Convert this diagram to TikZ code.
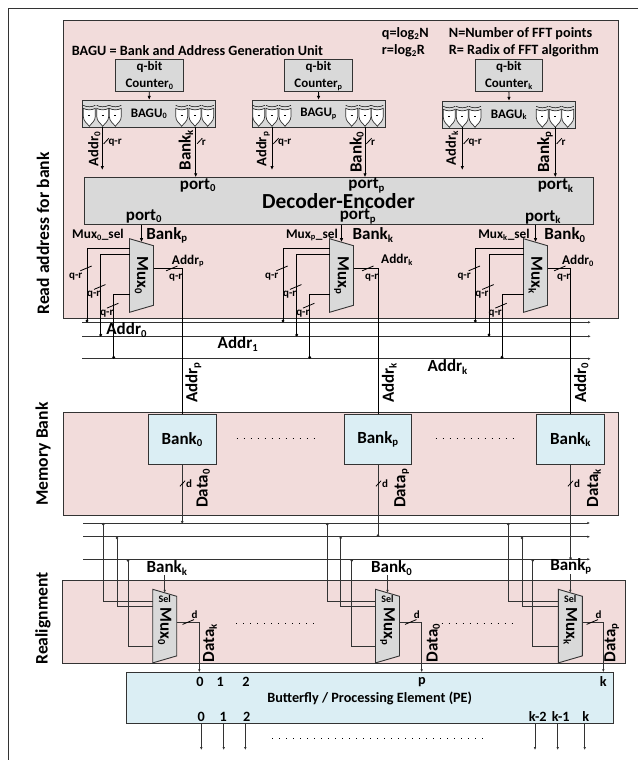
\documentclass[tikz,border=0pt]{standalone}
\usepackage{fontspec}
\setmainfont{Carlito}
\usepackage{tikz}
\usetikzlibrary{arrows.meta,calc}
\definecolor{panelpink}{RGB}{242,220,219}
\definecolor{blockgray}{RGB}{217,217,217}
\definecolor{memblue}{RGB}{219,238,244}
\definecolor{edgegray}{RGB}{51,51,51}
\newcommand{\ix}[1]{{\fontsize{0.9em}{1em}\selectfont\textsubscript{#1}}}
\tikzset{
  >=Latex,
  flow/.style={-{Latex[length=4pt,width=3.5pt]},draw=black,line width=0.9pt},
  wire/.style={draw=black,line width=0.9pt},
  tapwire/.style={-{Circle[length=2.8pt]},draw=black,line width=0.9pt},
  greytap/.style={-{Circle[length=2.4pt]},draw=edgegray,line width=0.9pt},
  busline/.style={-{Latex[length=2.6pt,width=2.4pt]},draw=edgegray,line width=1pt},
  outflow/.style={-{Latex[length=3pt,width=2.6pt]},draw=edgegray,line width=0.9pt},
  slashmark/.style={draw=black,line width=0.8pt},
  panelbox/.style={fill=panelpink,draw=edgegray,line width=0.9pt},
  regbox/.style={draw=edgegray,fill=blockgray,rectangle,line width=0.9pt,inner sep=0pt,align=center,
    font=\bfseries\fontsize{13}{17}\selectfont},
  membox/.style={draw=edgegray,fill=memblue,rectangle,line width=0.9pt,inner sep=0pt,align=center,
    font=\bfseries\fontsize{17}{17}\selectfont},
  muxbody/.style={draw=edgegray,fill=blockgray,line width=0.9pt},
  tiny/.style={font=\bfseries\fontsize{11}{11}\selectfont,inner sep=0pt},
  small/.style={font=\bfseries\fontsize{13.3}{13.3}\selectfont,inner sep=0pt},
  note/.style={font=\bfseries\fontsize{14.2}{14.2}\selectfont,inner sep=0pt},
  tag/.style={font=\bfseries\fontsize{17}{17}\selectfont,inner sep=0pt},
  tagtop/.style={font=\bfseries\fontsize{14.5}{14.5}\selectfont,inner sep=0pt},
  side/.style={font=\bfseries\fontsize{17.6}{17.6}\selectfont,inner sep=0pt,rotate=90},
  dotrow/.style={draw=black,line width=0.7pt,dash pattern=on 0.8pt off 6.2pt}
}
% short and long marks across a bus wire
\newcommand{\busslash}[2]{\draw[slashmark] (#1-2.6,#2+2.8) -- (#1+2.6,#2-2.8);}
\newcommand{\longslash}[2]{\draw[slashmark] (#1-5.7,#2+2.4) -- (#1+5.7,#2-2.4);}
% one register of a BAGU
\newcommand{\shieldreg}[2]{%
  \begin{scope}[shift={(#1,#2)}]
    \draw[line width=0.5pt] (-6,-3) .. controls (-3,-1) and (3,-1) .. (6,-3);
    \filldraw[fill=white,draw=edgegray,line width=0.7pt] (-6,0) .. controls (-3,2) and (3,2) .. (6,0)
      -- (6,8) .. controls (6,13) and (2,15) .. (0,18) .. controls (-2,15) and (-6,13) .. (-6,8) -- cycle;
    \draw[line width=0.5pt] (-1,7) -- (1,7);
  \end{scope}
}
% name, left x, top y, three input offsets, output offset, label
\newcommand{\muxshape}[8]{%
  \begin{scope}[shift={(#2,#3)}]
    \filldraw[muxbody] (0,0) -- (24,7) -- (24,66.6) -- (0,73.6) -- cycle;
    \coordinate (#1-ina) at (0,#4);
    \coordinate (#1-inb) at (0,#5);
    \coordinate (#1-inc) at (0,#6);
    \coordinate (#1-out) at (24,#7);
    \coordinate (#1-sel) at (12,3.5);
    \node[tag,rotate=-90] (#1-name) at (12,37) {#8};
  \end{scope}
}
\begin{document}
\begin{tikzpicture}[x=1pt,y=-1pt]
  \useasboundingbox (0,0) rectangle (638,760);
  \fill[white] (0,0) rectangle (638,760);
  \draw[edgegray,line width=1pt] (638,9) -- (8.5,9) -- (8.5,760);

  % Panels
  \filldraw[panelbox] (63,20) rectangle (618.7,318);
  \filldraw[panelbox] (63,412.3) rectangle (618.7,515);
  \filldraw[panelbox] (62.5,580.7) rectangle (625.3,663.3);
  \node[side] (sideread) at (43,233.5) {Read address for bank};
  \node[side] (sidemem) at (43,454) {Memory Bank};
  \node[side] (siderealign) at (43,618.5) {Realignment};

  % Notes
  \node[note,anchor=west] (notebagu) at (71.7,51) {BAGU = Bank and Address Generation Unit};
  \node[note,anchor=west] (noteq) at (381.7,34) {q=log\ix{2}N};
  \node[note,anchor=west] (noter) at (381.7,51) {r=log\ix{2}R};
  \node[note,anchor=west] (noten) at (448.7,34) {N=Number of FFT points};
  \node[note,anchor=west] (noteradix) at (448.7,51) {R= Radix of FFT algorithm};

  % Counters and BAGUs
  \node[regbox,minimum width=67.6,minimum height=32] (cntzero) at (149.5,75.7) {q-bit\\Counter\ix{0}};
  \node[regbox,minimum width=68.4,minimum height=32] (cntp) at (318.5,75.7) {q-bit\\Counter\ix{p}};
  \node[regbox,minimum width=67.7,minimum height=32] (cntk) at (508.9,75.7) {q-bit\\Counter\ix{k}};
  \node[regbox,minimum width=132.6,minimum height=26.7] (baguzero) at (149,113.7) {BAGU\ix{0}};
  \node[regbox,minimum width=132.7,minimum height=26.7] (bagup) at (318.6,113.7) {BAGU\ix{p}};
  \node[regbox,minimum width=133.4,minimum height=26.7] (baguk) at (509,114.7) {BAGU\ix{k}};
  \draw[flow] (cntzero) -- (baguzero);
  \draw[flow] (cntp) -- (bagup);
  \draw[flow] (cntk) -- (baguk);
  \foreach \xa in {89.3,102.7,115.3,181.7,195,207.7,258.7,272,285,351.7,365,377.3} {
    \shieldreg{\xa}{108.3}
  }
  \foreach \xa in {449.3,462.3,475,542.3,555.3,567.7} {
    \shieldreg{\xa}{109.3}
  }

  % Decoder
  \node[regbox,minimum width=509.3,minimum height=46.6,font=\bfseries\fontsize{21.4}{21.4}\selectfont] (dec) at (338.6,201) {\raisebox{1pt}{Decoder-Encoder}};
  \foreach \lbl/\xa/\xb/\sx in {0/102.3/195.7/198,p/272/365/366.7,k/462.3/555.3/555.7} {
    \draw[flow] (\xa,127) -- (\xa,170);
    \draw[flow] (\xb,127) -- (\xb,0 |- dec.north);
    \node[tag] (portup\lbl) at (\sx,185.5) {port\ix{\lbl}};
  }
  \node[tagtop,rotate=90] (addrzero) at (94.3,149) {Addr\ix{0}};
  \node[tag,rotate=90] (bankkup) at (186,150) {Bank\ix{k}};
  \node[tagtop,rotate=90] (addrp) at (263,149) {Addr\ix{p}};
  \node[tag,rotate=90] (bankzeroup) at (356.7,152) {Bank\ix{0}};
  \node[tagtop,rotate=90] (addrk) at (452,148) {Addr\ix{k}};
  \node[tag,rotate=90] (bankpup) at (545,152) {Bank\ix{p}};
  \foreach \xa/\xb/\name in {102.3/q-r/a,195.7/r/b,272/q-r/c,365/r/d,462.3/q-r/e,555.3/r/f} {
    \busslash{\xa+4}{141}
    \node[tiny,anchor=west] (wd\name) at (\xa+6,142.7) {\xb};
  }

  % Buses
  \coordinate (busa) at (82.3,322.3);
  \coordinate (busb) at (82.3,336.3);
  \coordinate (busc) at (82.3,358.7);
  \draw[busline] (busa) -- (590.7,322.3);
  \draw[busline] (busb) -- (590.7,336.3);
  \draw[busline] (busc) -- (590.7,358.7);
  \node[tag] (addrbuszero) at (126.7,330) {Addr\ix{0}};
  \node[tag] (addrbusone) at (238,344) {Addr\ix{1}};
  \node[tag] (addrbusk) at (447.7,367.3) {Addr\ix{k}};

  % Memory banks
  \node[membox,minimum width=67.7,minimum height=50.7] (bankzero) at (182.2,439.4) {Bank\ix{0}};
  \node[membox,minimum width=67.4,minimum height=50.7] (bankp) at (378,439.4) {Bank\ix{p}};
  \node[membox,minimum width=67.6,minimum height=50.7] (bankk) at (570.5,439.4) {Bank\ix{k}};
  \draw[dotrow] (236.7,438.3) -- (315.5,438.3);
  \draw[dotrow] (435.7,438.3) -- (514.5,438.3);

  % Read muxes
  \muxshape{muxzero}{129.5}{238.7}{9.6}{15.6}{56}{29.3}{Mux\ix{0}}
  \muxshape{muxp}{329.5}{238.7}{9.6}{15.6}{56}{29.3}{Mux\ix{p}}
  \muxshape{muxk}{523.5}{238.7}{9.6}{15.6}{56}{29.3}{Mux\ix{k}}
  \foreach \name/\xa/\xb/\xc in {muxzero/87/100.7/113.7,muxp/283/296.7/309.7,muxk/475.3/489/502} {
    \draw[tapwire] (\name-ina) -| (\xa,0 |- busa);
    \draw[tapwire] (\name-inb) -| (\xb,0 |- busb);
    \draw[tapwire] (\name-inc) -| (\xc,0 |- busc);
    \draw[flow] (\name-sel |- dec.south) -- (\name-sel);
    \longslash{\xa-1}{268.4}
    \longslash{\xb-1}{287}
    \longslash{\xc-1}{305.7}
    \node[tiny] (\name-qa) at (\xa-11.2,276.7) {q-r};
    \node[tiny] (\name-qb) at (\xb-7,294.7) {q-r};
    \node[tiny] (\name-qc) at (\xc-6.8,313.3) {q-r};
  }
  \foreach \name/\bank/\xa/\lbl/\lx/\ly/\blbl/\bx in {
    muxzero/bankzero/182.3/p/188/261/p/167,
    muxp/bankp/378.3/k/397/260/k/373,
    muxk/bankk/570.3/0/578/261/0/565} {
    \draw[wire] (\name-out) -| (\bank.north);
    \longslash{\xa-10.5}{268.4}
    \node[small] (\name-outaddr) at (\lx,\ly) {Addr\ix{\lbl}};
    \node[tiny] (\name-outq) at (\xa-6.6,277.7) {q-r};
    \node[tag] (\name-bank) at (\bx,235) {Bank\ix{\blbl}};
    \node[tag,rotate=90] (\name-addr) at (\xa+11,382.5) {Addr\ix{\lbl}};
  }
  \node[small] (selzero) at (98,235) {Mux\ix{0}\_sel};
  \node[small] (selp) at (312,235) {Mux\ix{p}\_sel};
  \node[small] (selk) at (504,235) {Mux\ix{k}\_sel};
  \node[tag] (portlowzero) at (144,216.5) {port\ix{0}};
  \node[tag] (portlowp) at (358,216.5) {port\ix{p}};
  \node[tag] (portlowk) at (543,217) {port\ix{k}};

  % Data buses
  \coordinate (datbusa) at (83,523);
  \coordinate (datbusb) at (83,536.7);
  \coordinate (datbusc) at (83,559.3);
  \draw[busline] (datbusa) -- (590,523);
  \draw[busline] (datbusb) -- (590,536.7);
  \draw[busline] (datbusc) -- (590,559.3);
  \draw[greytap] (bankzero.south) -- (bankzero.south |- datbusa);
  \draw[greytap] (bankp.south) -- (bankp.south |- datbusb);
  \draw[greytap] (bankk.south) -- (bankk.south |- datbusc);
  \foreach \name/\lbl/\lx in {bankzero/0/203.3,bankp/p/401.7,bankk/k/594} {
    \node[tag,rotate=90] (\name-data) at (\lx,488.3) {Data\ix{\lbl}};
  }
  \foreach \xa/\name in {182.5/a,378.5/b,570.5/c} {
    \busslash{\xa}{483.5}
    \node[tiny,anchor=west] (dwd\name) at (\xa+3.5,483.7) {d};
  }

  % Realignment muxes
  \muxshape{remuxzero}{152.7}{589.3}{11.7}{16.7}{57.4}{33.4}{Mux\ix{0}}
  \muxshape{remuxp}{375.5}{589.3}{11.7}{16.7}{57.4}{33.4}{Mux\ix{p}}
  \muxshape{remuxk}{558.3}{589.3}{11.7}{16.7}{57.4}{33.4}{Mux\ix{k}}
  \foreach \name/\xa/\xb/\xc/\lbl/\sx/\sy in {
    remuxzero/103.3/117/128/k/167/568,
    remuxp/327.3/340.7/351.7/0/391.7/568,
    remuxk/508.3/522/532.7/p/571/566} {
    \draw[greytap] (\name-ina) -| (\xa,0 |- datbusa);
    \draw[greytap] (\name-inb) -| (\xb,0 |- datbusb);
    \draw[greytap] (\name-inc) -| (\xc,0 |- datbusc);
    \node[tag] (\name-bank) at (\sx,\sy) {Bank\ix{\lbl}};
    \draw[outflow] (\name-sel |- \name-bank.south) -- (\name-sel);
    \node[tiny,font=\bfseries\fontsize{10}{10}\selectfont] (\name-seltag) at ($(\name-sel)+(0,6.3)$) {Sel};
  }

  % Processing element
  \node[membox,minimum width=486.7,minimum height=50.6,font=\bfseries\fontsize{14.2}{14.2}\selectfont] (pe) at (369.7,698) {Butterfly / Processing Element (PE)};
  \foreach \name/\xa/\lbl/\lx in {remuxzero/199.3/k/210,remuxp/421.7/0/433.3,remuxk/603.3/p/611.7} {
    \draw[outflow] (\name-out) -| (\xa,0 |- pe.north);
    \longslash{\xa-11}{622}
    \node[tiny] (\name-d) at (\xa-4.8,614.5) {d};
    \node[tag,rotate=90] (\name-data) at (\lx,643) {Data\ix{\lbl}};
  }
  \draw[dotrow] (236,623) -- (315,623);
  \draw[dotrow] (441.7,623) -- (514,623);
  \foreach \xa/\lbl/\name in {200/0/a,220.3/1/b,246/2/c,422/p/d,603.3/k/e} {
    \node[note] (innum\name) at (\xa,682) {\lbl};
  }
  \foreach \xa/\lbl/\name/\xo in {201.3/0/a/201.3,223.3/1/b/223.7,246.7/2/c/245.3,537.7/k-2/d/535,560.7/k-1/e/557.7,585.7/k/f/584.7} {
    \node[note] (outnum\name) at (\xa,716.7) {\lbl};
    \draw[outflow] (\xo,0 |- pe.south) -- (\xo,750);
  }
  \draw[dotrow] (272,738.3) -- (483,738.3);
\end{tikzpicture}
\end{document}
